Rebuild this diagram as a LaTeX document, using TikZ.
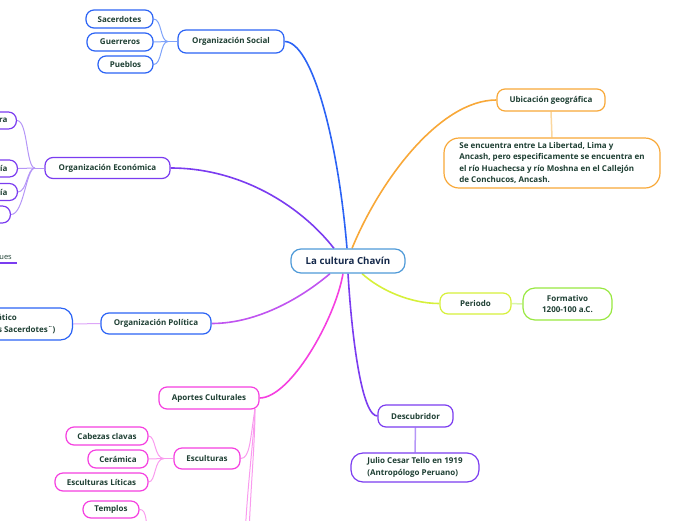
\documentclass[tikz,border=0pt]{standalone}
\usepackage{fontspec}
\setmainfont{Open Sans}
\usetikzlibrary{backgrounds}
\definecolor{txt}{HTML}{1E3F33}
\definecolor{cnavy}{HTML}{14284A}
\definecolor{ccenter}{HTML}{4F9AD8}
\definecolor{cblue}{HTML}{2B63F5}
\definecolor{cbluel}{HTML}{7FA3FA}
\definecolor{cpurple}{HTML}{7B3CF0}
\definecolor{cpurplel}{HTML}{B596F7}
\definecolor{cviolet}{HTML}{C054F0}
\definecolor{cvioletl}{HTML}{DDA6F8}
\definecolor{cmag}{HTML}{F53FE0}
\definecolor{cmagl}{HTML}{F99BEE}
\definecolor{corange}{HTML}{F8A838}
\definecolor{corangel}{HTML}{FBD79E}
\definecolor{clime}{HTML}{D6F03A}
\definecolor{cgreen}{HTML}{98E840}
\definecolor{cgreenl}{HTML}{D8F6A8}
\begin{document}
\begin{tikzpicture}[x=1pt,y=-1pt,
  font=\fontsize{8}{11.6}\selectfont\bfseries,
  box/.style={draw, rounded corners=8pt, fill=white, text=txt, line width=1.2pt, inner sep=0pt, align=center},
  main/.style={line width=1.6pt},
  sub/.style={line width=1pt},
]
\useasboundingbox (0,0) rectangle (696,520);
\clip (0,0) rectangle (696,520);

% center
\node[box, draw=ccenter, minimum width=114, minimum height=24, rounded corners=10pt,
      font=\fontsize{9.7}{11}\selectfont\bfseries, text=cnavy] (center) at (348,261) {La cultura Chavín};

% Organizacion Social
\node[box, draw=cblue, minimum width=106, minimum height=23] (orgsoc) at (231,41.5) {Organización Social};
\node[box, draw=cblue, minimum width=67, minimum height=18] (sac) at (119.5,19) {Sacerdotes};
\node[box, draw=cblue, minimum width=66, minimum height=18] (gue) at (120,42) {Guerreros};
\node[box, draw=cblue, minimum width=55, minimum height=17] (pue) at (125.5,64.5) {Pueblos};

% Organizacion Economica
\node[box, draw=cpurple, minimum width=125, minimum height=21] (orgeco) at (107.5,168) {Organización Económica};
\node[box, draw=cpurple, minimum height=17, inner xsep=9pt, anchor=east] (agr) at (17,120.5) {Agricultura};
\node[box, draw=cpurple, minimum height=17, inner xsep=10pt, anchor=east] (gan) at (18,168.5) {Ganadería};
\node[box, draw=cpurple, minimum height=17, inner xsep=10pt, anchor=east] (orf) at (18,192) {Orfebrería};
\node[box, draw=cpurple, minimum height=17, inner xsep=12pt, anchor=east] (com) at (11,214.5) {Comercio};
\node[anchor=south east, font=\fontsize{7.5}{9}\selectfont, text=txt, inner xsep=5pt, inner ysep=1.5pt] (trq) at (17,262.5) {Trueques};

% Organizacion Politica
\node[box, draw=cblue, minimum width=110, minimum height=21] (orgpol) at (156,323.5) {Organización Política};
\node[box, draw=cblue, minimum height=32, inner xsep=17pt, rounded corners=12pt, anchor=east] (teo) at (73,324) {Teocrático\\(Gobierno de los Sacerdotes¨)};

% Aportes Culturales
\node[box, draw=cmag, minimum width=100, minimum height=22] (aport) at (209,398) {Aportes Culturales};
\node[box, draw=cmag, minimum width=66, minimum height=21] (escul) at (207,458.5) {Esculturas};
\node[box, draw=cmag, minimum width=82, minimum height=18] (cab) at (107,436) {Cabezas clavas};
\node[box, draw=cmag, minimum width=60, minimum height=18] (cer) at (118,459) {Cerámica};
\node[box, draw=cmag, minimum width=93, minimum height=18] (lit) at (101.5,482) {Esculturas Líticas};
\node[box, draw=cmag, minimum width=56, minimum height=17] (tem) at (111,509.5) {Templos};

% Ubicacion
\node[box, draw=corange, minimum width=108, minimum height=22] (ubic) at (551,100) {Ubicación geográfica};
\node[box, draw=corange, minimum width=216, minimum height=50, align=left, rounded corners=15pt] (ubtxt) at (552,163)
  {Se encuentra entre La Libertad, Lima y\\Ancash, pero especificamente se encuentra en\\el río Huachecsa y río Moshna en el Callejón\\de Conchucos, Ancash.};

% Periodo
\node[box, draw=clime, minimum width=71, minimum height=21] (per) at (475.5,303.5) {Periodo};
\node[box, draw=cgreen, minimum width=89, minimum height=32, rounded corners=12pt] (form) at (567.5,304) {Formativo\\1200-100 a.C.};

% Descubridor
\node[box, draw=cpurple, minimum width=75, minimum height=22] (desc) at (415.5,416) {Descubridor};
\node[box, draw=cpurple, minimum width=128, minimum height=29, align=left, rounded corners=12pt] (jul) at (415,467.5) {Julio Cesar Tello en 1919\\(Antropólogo Peruano)};

% junctions and off-picture ends
\coordinate (jsoc) at (168,41.5);
\coordinate (jeco) at (35,168);
\coordinate (japo) at (255,409);
\coordinate (jesc) at (164,458.5);
\coordinate (off1) at (244,570);
\coordinate (off2) at (248,570);
\coordinate (off3) at (150,560);

\begin{scope}[on background layer]
  % main branches
  \draw[main, cblue] (orgsoc.east) .. controls (312,41.5) and (338,140) .. ([xshift=-1pt]center.north);
  \draw[main, cpurple] (orgeco.east) .. controls (240,168) and (300,205) .. ([xshift=-14pt]center.north);
  \draw[main, corange] ([xshift=4pt]center.north) .. controls (380,180) and (440,100) .. (ubic.west);
  \draw[main, cviolet] (orgpol.east) .. controls (260,323.5) and (305,295) .. ([xshift=-18pt]center.south);
  \draw[main, cmag] (aport.east) .. controls (290,398) and (335,320) .. ([xshift=-5pt]center.south);
  \draw[main, cpurple] (center.south) .. controls (352,340) and (362,416) .. (desc.west);
  \draw[main, clime] ([xshift=14pt]center.south) .. controls (380,290) and (410,303.5) .. (per.west);

  % social
  \draw[sub, cbluel] (sac.east) .. controls (162,19) and (160,41.5) .. (jsoc);
  \draw[sub, cbluel] (gue.east) -- (jsoc);
  \draw[sub, cbluel] (pue.east) .. controls (162,64.5) and (160,41.5) .. (jsoc);
  \draw[sub, cbluel] (jsoc) -- (orgsoc.west);

  % economica
  \draw[sub, cpurplel] (agr.east) .. controls (28,120.5) and (26,168) .. (jeco);
  \draw[sub, cpurplel] (gan.east) .. controls (26,168.5) and (28,168) .. (jeco);
  \draw[sub, cpurplel] (orf.east) .. controls (27,192) and (27,168) .. (jeco);
  \draw[sub, cpurplel] (com.east) .. controls (24,214.5) and (26,168) .. (jeco);
  \draw[sub, cpurplel] (jeco) -- (orgeco.west);
  \draw[line width=2pt, cpurple] (trq.south west) -- (trq.south east);

  % politica
  \draw[sub, cvioletl] (teo.east) -- (orgpol.west);

  % aportes
  \draw[sub, cmagl] (japo) .. controls (250,440) and (250,458.5) .. (escul.east);
  \draw[sub, cmagl] (japo) .. controls (253,450) and (245,500) .. (off1);
  \draw[sub, cmagl] (japo) .. controls (255,450) and (249,500) .. (off2);
  \draw[sub, cmagl] (cab.east) .. controls (156,436) and (154,458.5) .. (jesc);
  \draw[sub, cmagl] (cer.east) -- (jesc);
  \draw[sub, cmagl] (lit.east) .. controls (156,482) and (154,458.5) .. (jesc);
  \draw[sub, cmagl] (jesc) -- (escul.west);
  \draw[sub, cmagl] (tem.east) .. controls (147,509.5) and (146,520) .. (off3);

  % others
  \draw[line width=1.5pt, corangel] (ubic.south) -- (ubtxt.north);
  \draw[line width=1.5pt, cgreenl] (per.east) -- (form.west);
  \draw[line width=1.5pt, cpurplel] (desc.south) -- (jul.north);
\end{scope}
\end{tikzpicture}
\end{document}
